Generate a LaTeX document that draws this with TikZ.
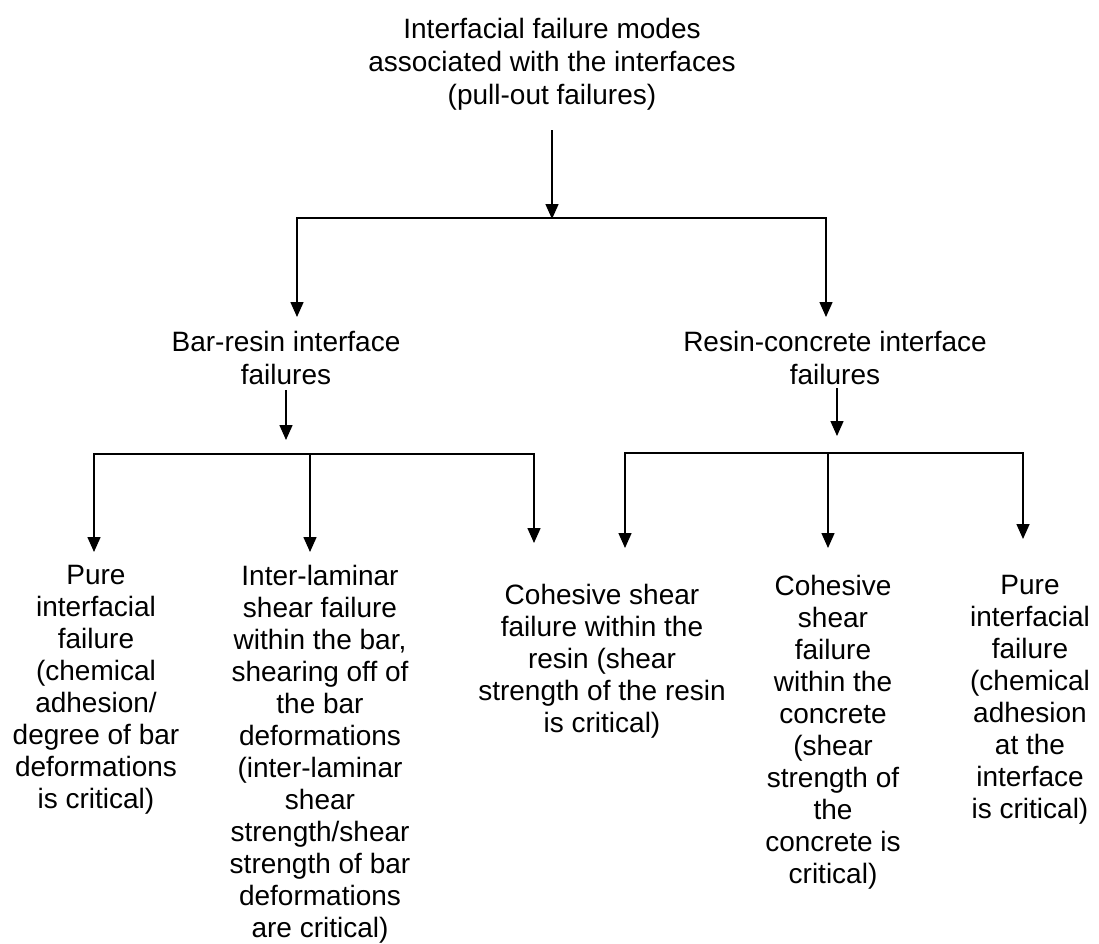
\documentclass[tikz,border=0pt]{standalone}
\usepackage{fontspec}
\setmainfont{Liberation Sans}
\usetikzlibrary{arrows.meta}
\begin{document}
\begin{tikzpicture}[x=1pt,y=-1pt,
  txt/.style={align=center,inner sep=0pt,anchor=north,font=\fontsize{28}{32}\selectfont},
  txtb/.style={txt,font=\fontsize{28}{33}\selectfont},
  conn/.style={line width=1.5pt},
  bar/.style={conn,line cap=rect},
  arr/.style={conn,-{Triangle[length=15pt,width=13pt]}}]
\useasboundingbox (0,0) rectangle (1099,943);

% text nodes
\node[txtb] (title) at (552,18) {Interfacial failure modes\\associated with the interfaces\\(pull-out failures)};
\node[txtb] (br) at (286,331) {Bar-resin interface\\failures};
\node[txtb] (rc) at (835,331) {Resin-concrete interface\\failures};
\node[txt] (c1) at (96,565) {Pure\\interfacial\\failure\\(chemical\\adhesion/\\degree of bar\\deformations\\is critical)};
\node[txt] (c2) at (320,565) {Inter-laminar\\shear failure\\within the bar,\\shearing off of\\the bar\\deformations\\(inter-laminar\\shear\\strength/shear\\strength of bar\\deformations\\are critical)};
\node[txt] (c3) at (602,584) {Cohesive shear\\failure within the\\resin (shear\\strength of the resin\\is critical)};
\node[txt] (c4) at (833,575) {Cohesive\\shear\\failure\\within the\\concrete\\(shear\\strength of\\the\\concrete is\\critical)};
\node[txt] (c5) at (1030,575) {Pure\\interfacial\\failure\\(chemical\\adhesion\\at the\\interface\\is critical)};

% junction coordinates
\coordinate (t0) at (552,130);
\coordinate (j0) at (552,219);
\coordinate (jL) at (297,218);
\coordinate (jR) at (826,218);
\coordinate (tL) at (297,317);
\coordinate (tR) at (826,317);
\coordinate (b0) at (286,390);
\coordinate (b1) at (286,440);
\coordinate (r0) at (837,388);
\coordinate (r1) at (837,436);
\coordinate (h1) at (94,454);
\coordinate (h2) at (310,454);
\coordinate (h3) at (534,454);
\coordinate (h4) at (625,453);
\coordinate (h5) at (828,453);
\coordinate (h6) at (1023,453);
\coordinate (e1) at (94,552);
\coordinate (e2) at (310,552);
\coordinate (e3) at (534,543);
\coordinate (e4) at (625,548);
\coordinate (e5) at (828,548);
\coordinate (e6) at (1023,539);

% connectors
\draw[arr] (t0) -- (j0);
\draw[bar] (jL) -- (jR);
\draw[arr] (jL) -- (tL);
\draw[arr] (jR) -- (tR);
\draw[arr] (b0) -- (b1);
\draw[arr] (r0) -- (r1);
\draw[bar] (h1) -- (h3);
\draw[bar] (h4) -- (h6);
\draw[arr] (h1) -- (e1);
\draw[arr] (h2) -- (e2);
\draw[arr] (h3) -- (e3);
\draw[arr] (h4) -- (e4);
\draw[arr] (h5) -- (e5);
\draw[arr] (h6) -- (e6);
\end{tikzpicture}
\end{document}
